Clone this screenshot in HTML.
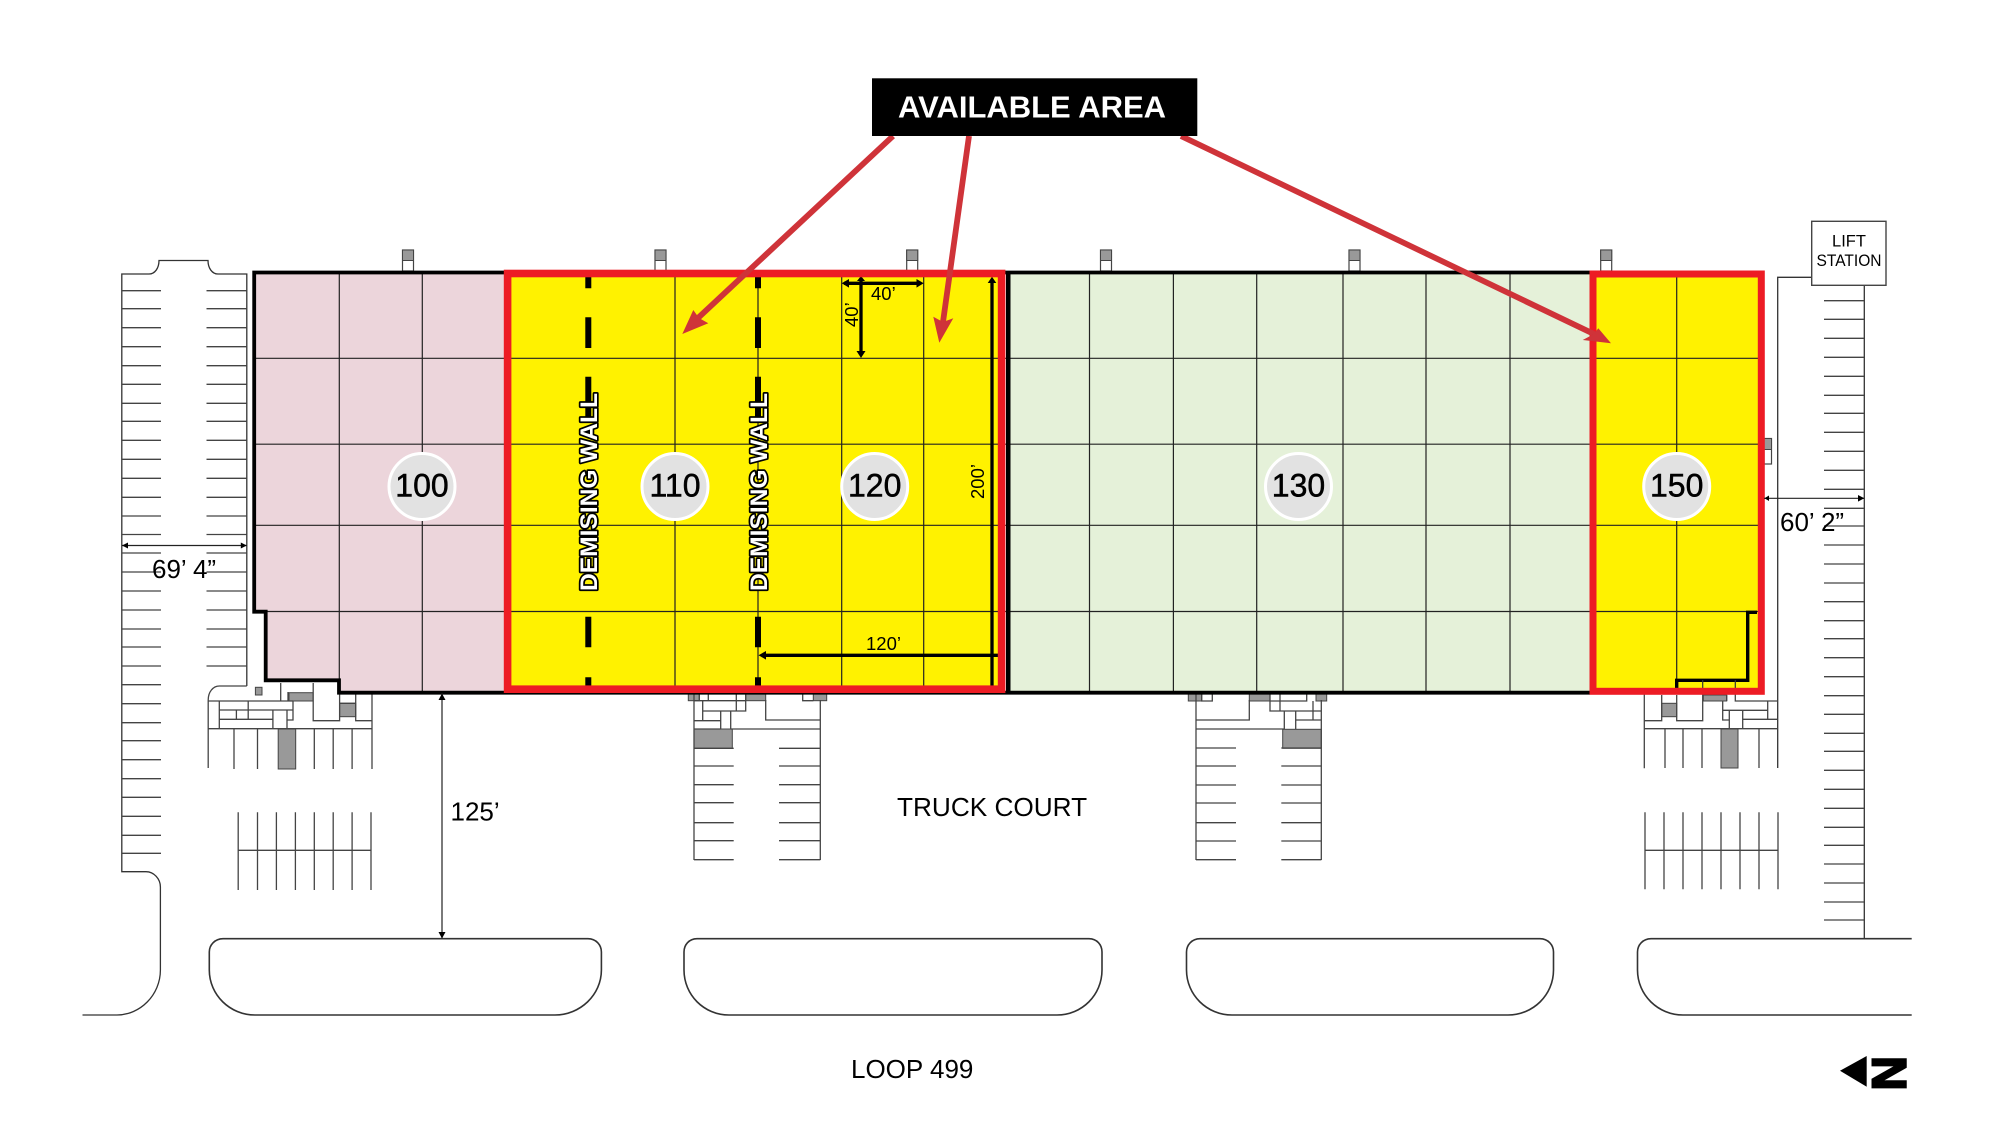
<!DOCTYPE html>
<html><head><meta charset="utf-8"><style>
html,body{margin:0;padding:0;background:#fff}
svg{display:block}
text{font-family:"Liberation Sans",sans-serif;fill:#000}
</style></head><body>
<svg width="2000" height="1129" viewBox="0 0 2000 1129" xmlns="http://www.w3.org/2000/svg">
<rect width="2000" height="1129" fill="#fff"/>

<!-- vents -->
<g fill="#fff" stroke="#444" stroke-width="1.2">
<rect x="402.5" y="250" width="11" height="21"/><rect x="655" y="250" width="11" height="21"/><rect x="906.7" y="250" width="11" height="21"/><rect x="1100.5" y="250" width="11" height="21"/><rect x="1349" y="250" width="11" height="21"/><rect x="1600.7" y="250" width="11" height="21"/><rect x="1764" y="438.5" width="7.5" height="25.5"/>
</g>
<g fill="#999" stroke="#444" stroke-width="1">
<rect x="402.5" y="250" width="11" height="10.5"/><rect x="655" y="250" width="11" height="10.5"/><rect x="906.7" y="250" width="11" height="10.5"/><rect x="1100.5" y="250" width="11" height="10.5"/><rect x="1349" y="250" width="11" height="10.5"/><rect x="1600.7" y="250" width="11" height="10.5"/><rect x="1764" y="438.5" width="7.5" height="11"/>
</g>

<!-- left parking -->
<path fill="none" stroke="#333" stroke-width="1.3" d="M246.8 686V274H218C212 274 208 268 208 260.5H159C159 268 155 274 149 274H121.8V871.7H146C154 871.7 160.4 879 160.4 887V970C160.4 995 140 1015 117 1015H82.5"/>
<path fill="none" stroke="#444" stroke-width="1.3" d="M122 290.7H161M206.5 290.7H246.8M122 308.7H161M206.5 308.7H246.8M122 327.7H161M206.5 327.7H246.8M122 346.7H161M206.5 346.7H246.8M122 365.7H161M206.5 365.7H246.8M122 384.3H161M206.5 384.3H246.8M122 403.3H161M206.5 403.3H246.8M122 421.3H161M206.5 421.3H246.8M122 440.3H161M206.5 440.3H246.8M122 459.3H161M206.5 459.3H246.8M122 478.3H161M206.5 478.3H246.8M122 497.3H161M206.5 497.3H246.8M122 516H161M206.5 516H246.8M122 534.5H161M206.5 534.5H246.8M122 553H161M206.5 553H246.8M122 572H161M206.5 572H246.8M122 591H161M206.5 591H246.8M122 610H161M206.5 610H246.8M122 629H161M206.5 629H246.8M122 647H161M206.5 647H246.8M122 666H161M206.5 666H246.8M122 684.7H161M122 703.7H161M122 722.7H161M122 740.7H161M122 759.7H161M122 778.7H161M122 797.3H161M122 816.3H161M122 835.3H161M122 853.3H161"/>

<!-- right parking -->
<path fill="none" stroke="#333" stroke-width="1.3" d="M1811.7 277.3H1777.7V768M1864.3 285.3V938.7"/>
<path fill="none" stroke="#444" stroke-width="1.3" d="M1824 300.7H1864M1824 319.3H1864M1824 338.3H1864M1824 357.3H1864M1824 376.3H1864M1824 395.3H1864M1824 413.3H1864M1824 432.3H1864M1824 451.3H1864M1824 470.3H1864M1824 489.3H1864M1824 508.3H1864M1824 526H1864M1824 545H1864M1824 564H1864M1824 583H1864M1824 601.7H1864M1824 620.7H1864M1824 638.7H1864M1824 657.7H1864M1824 676.7H1864M1824 695.7H1864M1824 714.3H1864M1824 733.3H1864M1824 751.3H1864M1824 770.3H1864M1824 789.3H1864M1824 808.3H1864M1824 827.3H1864M1824 845.3H1864M1824 864H1864M1824 883H1864M1824 902H1864M1824 920H1864"/>
<rect x="1811.7" y="221.3" width="74.3" height="64" fill="#fff" stroke="#444" stroke-width="1.4"/>
<text x="1849" y="246.5" font-size="16.5" text-anchor="middle">LIFT</text>
<text x="1849" y="266" font-size="16.5" text-anchor="middle" textLength="65" lengthAdjust="spacingAndGlyphs">STATION</text>

<!-- islands -->
<g fill="none" stroke="#333" stroke-width="1.6">
<path d="M223 938.7H588C596 938.7 601.4 945 601.4 952V970C601.4 995 580 1015 555 1015H255C230 1015 209.3 995 209.3 970V952C209.3 945 215 938.7 223 938.7Z"/>
<path d="M697 938.7H1089C1097 938.7 1102 945 1102 952V970C1102 995 1082 1015 1057 1015H729C704 1015 684 995 684 970V952C684 945 689 938.7 697 938.7Z"/>
<path d="M1200 938.7H1540C1548 938.7 1553.5 945 1553.5 952V970C1553.5 995 1533 1015 1508 1015H1232C1207 1015 1186.5 995 1186.5 970V952C1186.5 945 1192 938.7 1200 938.7Z"/>
<path d="M1911.7 938.7H1651C1643 938.7 1637.5 945 1637.5 952V970C1637.5 995 1658 1015 1683 1015H1911.7"/>
</g>

<!-- dock 1 -->
<g fill="#999" stroke="#444" stroke-width="1">
<rect x="255.4" y="687.3" width="6.6" height="7.7"/><rect x="289" y="692.7" width="24" height="8.3"/><rect x="339.6" y="703.3" width="16.1" height="13.4"/><rect x="278.2" y="729" width="17.5" height="40"/>
<rect x="1661.7" y="703.3" width="15" height="13.4"/><rect x="1703.3" y="695" width="23.4" height="6"/><rect x="1721" y="729" width="17" height="39"/>
<rect x="688.3" y="693.3" width="11" height="7.4"/><rect x="745.7" y="693.3" width="20" height="7.4"/><rect x="813.3" y="693.3" width="13.4" height="7.4"/><rect x="694" y="729" width="38.3" height="19.3"/>
<rect x="1188.3" y="693.3" width="13.4" height="7.7"/><rect x="1249.3" y="693.3" width="20.7" height="7.7"/><rect x="1316" y="693.3" width="10.7" height="7.7"/><rect x="1282.7" y="729.3" width="38.6" height="19"/>
</g>
<path fill="none" stroke="#444" stroke-width="1.3" d="
M246.8 686H219.3C213 686 208.2 692 208.2 700V768
M208 701H293M219.3 701V728.7M219.3 710H293M219.3 719.3H273M248.2 701V719.3M293 701V720H287M236.4 710V719.3M272.9 710V728.7M287 710V728.7
M280.7 683V701M288 692V701M313.2 683V720.7H339.6V683M339.6 703.3H355.7M355.7 693V720.7H372M372 693V769M208 728.7H372
M234 728.7V769M257.5 728.7V769M314.3 728.7V769M333.2 728.7V769M352.1 728.7V769
M238.2 812.3V890M257.5 812.3V890M276.4 812.3V890M295.4 812.3V890M314.3 812.3V890M333.2 812.3V890M352.1 812.3V890M371 812.3V890M238.2 850.3H371

M694 693V860M820.3 700V860M699.3 693V700.7H708.3V693M694 700.7H745.7M736.3 693V711M745.7 693V711H702.7M702.7 700.7V720.7M694 720.7H720.7M720.7 711V729M730.7 711V729M694 729H720.7M730.7 729H820.3M765.7 700V720H820.3M802.7 693V700.7H813.3
M694 748.3H733.7M779 748.3H820.3M694 766H733.7M779 766H820.3M694 784.7H733.7M779 784.7H820.3M694 802.7H733.7M779 802.7H820.3M694 822.7H733.7M779 822.7H820.3M694 840.7H733.7M779 840.7H820.3M694 859.7H733.7M779 859.7H820.3

M1196 693V860M1321.3 700V860M1201.7 693V701H1212.3V693M1196 720H1249.3V700M1270 693V711H1321.3M1280 693V711M1270 701H1306.7V693M1313 701V720M1295.7 720H1321.3M1284.3 711V729M1295.7 711V729M1196 729H1284
M1196 748H1236M1281.3 748H1321.3M1196 766H1236M1281.3 766H1321.3M1196 785H1236M1281.3 785H1321.3M1196 803H1236M1281.3 803H1321.3M1196 822.7H1236M1281.3 822.7H1321.3M1196 841H1236M1281.3 841H1321.3M1196 859.7H1236M1281.3 859.7H1321.3

M1644.3 693V768.3M1644.3 720.7H1661.7V695M1676.7 695V720.7H1702.7V695M1726.7 695V701M1735.3 695V701H1777.7M1722.7 701V720H1729.3M1722.7 710.3H1767.7M1742.7 719.3H1777.7M1767.7 701V719.3M1729.3 710.3V728.7M1742.7 710.3V728.7M1644.3 728.7H1777.7
M1665 728.7V768M1683 728.7V768M1702 728.7V768M1759 728.7V768
M1645 812.3V889.3M1664 812.3V889.3M1683 812.3V889.3M1702 812.3V889.3M1721 812.3V889.3M1740 812.3V889.3M1759 812.3V889.3M1778 812.3V889.3M1645 850.3H1778"/>

<!-- building fills -->
<path fill="#ecd5db" d="M254 272H504V692H339V680H265V611.7H254Z"/>
<rect x="1010" y="272" width="580" height="420" fill="#e5f1d9"/>
<rect x="504" y="272" width="500" height="420" fill="#fff200"/>
<rect x="1590" y="272" width="172" height="420" fill="#fff200"/>

<!-- grid -->
<path fill="none" stroke="#222" stroke-width="1.2" d="M254 358.3H1760M254 444.2H1760M254 525.3H1760M265 611.5H1760
M339.3 272V680M422.3 272V692M675 272V692M758 272V692M841.7 272V692M923.7 272V692
M1089.5 272V692M1173.4 272V692M1256.7 272V692M1343 272V692M1426 272V692M1510 272V692M1676.7 272V680"/>

<!-- building outline -->
<path fill="none" stroke="#000" stroke-width="3.8" d="M1590 272.5H254.2V611.7H265.7V680.3H339V692.7H1590"/>
<rect x="1006" y="271" width="4.5" height="422" fill="#000"/>
<path fill="none" stroke="#000" stroke-width="3.4" d="M1757 612.3H1747.7V680.3H1676.7V688.3"/>
<path fill="none" stroke="#333" stroke-width="1.2" d="M1702.7 680V695M1735.3 680V695"/>

<!-- demising wall dashes -->
<path fill="none" stroke="#000" stroke-width="6" d="M588.3 276.7V288.3M588.3 317.3V348M588.3 376.7V420M588.3 616.7V647.3M588.3 677.3V685.7M758 276.7V288.3M758 317.3V348M758 376.7V420M758 616.7V647.3M758 677.3V685.7"/>

<!-- dimensions in yellow -->
<path fill="none" stroke="#000" stroke-width="3.3" d="M844 283.3H921M861 279V354M762 655.3H998M992 281V686"/>
<path fill="#000" d="M841.7 283.3L849 279V287.6ZM923.7 283.3L916.5 279V287.6ZM861 358L856.5 351H865.5ZM861 276L857 281H865ZM758.5 655.3L766 651V659.6ZM992 276.7L987.7 283H996.3Z"/>
<text x="871" y="300" font-size="18.5">40’</text>
<text transform="translate(858 327) rotate(-90)" font-size="18.5">40’</text>
<text x="866" y="650" font-size="18.5">120’</text>
<text transform="translate(984 499) rotate(-90)" font-size="18.5">200’</text>

<!-- red borders -->
<rect x="507.6" y="273.5" width="494" height="415.7" fill="none" stroke="#ed1c24" stroke-width="7.6"/>
<rect x="1593" y="274" width="168.3" height="417.3" fill="none" stroke="#ed1c24" stroke-width="7"/>

<!-- demising labels -->
<g font-weight="700" font-size="24" style="fill:#fff;stroke:#000;stroke-width:3.4;paint-order:stroke;stroke-linejoin:round">
<text transform="translate(597 591) rotate(-90)" textLength="198" lengthAdjust="spacingAndGlyphs" style="fill:#fff">DEMISING WALL</text>
<text transform="translate(767 591) rotate(-90)" textLength="198" lengthAdjust="spacingAndGlyphs" style="fill:#fff">DEMISING WALL</text>
</g>

<!-- unit circles -->
<g fill="#e2e2e2" stroke="#fff" stroke-width="3">
<circle cx="422" cy="486.5" r="33"/><circle cx="675" cy="486.5" r="33"/><circle cx="874.7" cy="486.5" r="33"/><circle cx="1298.5" cy="486.5" r="33"/><circle cx="1676.7" cy="486.5" r="33"/>
</g>
<g font-size="32" text-anchor="middle" style="stroke:#000;stroke-width:.5">
<text x="422" y="496.3">100</text><text x="675" y="496.3">110</text><text x="874.7" y="496.3">120</text><text x="1298.5" y="496.3">130</text><text x="1676.7" y="496.3">150</text>
</g>

<!-- arrows -->
<g stroke="#cf3339" stroke-width="5.8" fill="none">
<path d="M893 136L698 318M969 136L943 322M1181 136L1596 335"/>
</g>
<g fill="#cf3339">
<polygon points="682.3,334 693.3,310 699,318 708.3,323.3"/>
<polygon points="939.3,342.7 933.3,316.7 943,322 953.3,318.3"/>
<polygon points="1611,343.3 1582.7,340 1594,334 1598.3,328.3"/>
</g>

<!-- banner -->
<rect x="872" y="78.3" width="325.3" height="57.7" fill="#000"/>
<text x="898" y="117.6" font-size="30.5" font-weight="700" textLength="268" lengthAdjust="spacingAndGlyphs" style="fill:#fff">AVAILABLE AREA</text>

<!-- white-area dimensions -->
<path fill="none" stroke="#222" stroke-width="1.2" d="M442 693V938M122 545.5H246.5M1764 498.3H1864"/>
<path fill="#000" d="M442 693.5L438.5 700H445.5ZM442 938.5L438.5 932H445.5ZM122 545.5L128 542.5V548.5ZM246.8 545.5L240.8 542.5V548.5ZM1764.5 498.3L1769 495.5V501ZM1864.3 498.3L1858 495V501.6Z"/>
<text x="450.5" y="820.5" font-size="26">125’</text>
<text x="152" y="578" font-size="26">69’ 4”</text>
<text x="1780" y="531" font-size="26">60’ 2”</text>
<text x="897" y="816" font-size="26.2">TRUCK COURT</text>
<text x="851" y="1078" font-size="26">LOOP 499</text>

<!-- north arrow -->
<polygon points="1840,1070.7 1866.7,1056 1866.7,1086.7" fill="#000"/>
<text transform="translate(1872.5 1054) rotate(90)" font-size="48" font-weight="700" style="stroke:#000;stroke-width:2" x="2" y="0">N</text>
</svg>
</body></html>
